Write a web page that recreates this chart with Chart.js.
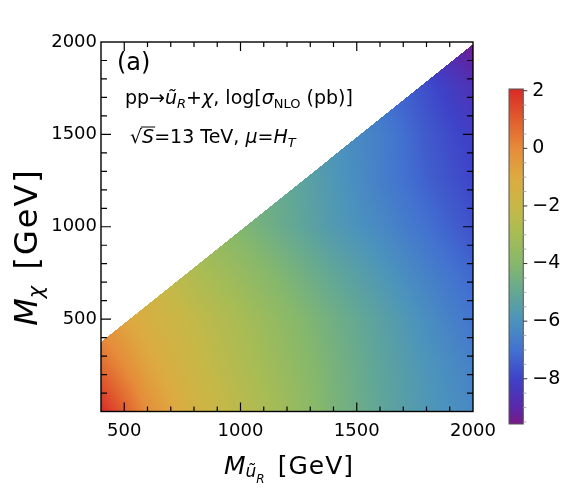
<!DOCTYPE html>
<html><head><meta charset="utf-8">
<script src="https://cdn.jsdelivr.net/npm/chart.js@4/dist/chart.umd.min.js"></script>
<style>
html,body{margin:0;padding:0;background:#fff;}
#wrap{position:relative;width:565px;height:502px;}
#wrap canvas{position:absolute;left:0;top:0;}
</style></head><body>
<div id="wrap"><canvas id="main" width="565" height="502"></canvas><canvas id="cbar" width="565" height="502"></canvas></div>
<script>
// ---- data ----
const mSquark = [400, 600, 800, 1000, 1200, 1400, 1600, 1800, 2000];      // x grid, GeV
const mChi    = [0, 250, 500, 750, 1000, 1250, 1500, 1750, 2000];          // y grid, GeV
const logSigma_chi0    = [2.06, -0.10, -1.50, -2.40, -3.30, -4.30, -5.10, -5.80, -6.30];
const logSigma_chi250  = [0.70, -0.80, -1.85, -2.70, -3.55, -4.40, -5.20, -5.90, -6.55];
const logSigma_chi500  = [-0.40, -1.35, -2.15, -2.95, -3.80, -4.60, -5.35, -6.15, -6.90];
const logSigma_chi750  = [-1.00, -1.80, -2.75, -3.50, -4.30, -5.10, -5.80, -6.55, -7.25];
const logSigma_chi1000 = [null, -2.40, -3.40, -4.15, -4.90, -5.70, -6.30, -7.00, -7.70];
const logSigma_chi1250 = [null, null, null, -4.50, -5.00, -5.80, -6.60, -7.35, -7.95];
const logSigma_chi1500 = [null, null, null, null, -5.40, -5.95, -6.60, -7.50, -8.15];
const logSigma_chi1750 = [null, null, null, null, null, -6.30, -7.00, -7.75, -8.60];
const logSigma_chi2000 = [null, null, null, null, null, null, -7.50, -8.40, -9.57];
const edgeSquark = [400, 2000];   // kinematic edge of the filled region
const edgeChi    = [376, 1988];
const colorbarRange = [-9.57, 2.06];
const colorbarTicks = [2, 0, -2, -4, -6, -8];
const xTickLabels = [500, 1000, 1500, 2000];
const yTickLabels = [500, 1000, 1500, 2000];

// ---- style ----
const FONT = 'DejaVu Sans';
const palette = [
  [-9.57, [120, 28, 135]],
  [-9.0, [90, 40, 168]],
  [-8.0, [62, 66, 200]],
  [-7.0, [66, 114, 208]],
  [-6.0, [75, 147, 189]],
  [-5.0, [99, 168, 147]],
  [-4.0, [134, 184, 107]],
  [-3.0, [167, 188, 85]],
  [-2.0, [199, 184, 71]],
  [-1.0, [221, 170, 64]],
  [0.0, [230, 139, 58]],
  [1.0, [224, 93, 46]],
  [2.06, [217, 42, 39]]
];
function colorFor(v) {
  if (v <= palette[0][0]) return palette[0][1];
  for (let k = 0; k < palette.length - 1; k++) {
    const [a, ca] = palette[k], [b, cb] = palette[k + 1];
    if (v <= b) {
      const t = (v - a) / (b - a);
      return [0, 1, 2].map(q => Math.round(ca[q] + (cb[q] - ca[q]) * t));
    }
  }
  return palette[palette.length - 1][1];
}

const gridRows = [logSigma_chi0, logSigma_chi250, logSigma_chi500, logSigma_chi750, logSigma_chi1000,
  logSigma_chi1250, logSigma_chi1500, logSigma_chi1750, logSigma_chi2000];
const points = [];
mChi.forEach((yv, j) => mSquark.forEach((xv, i) => {
  const v = gridRows[j][i];
  if (v !== null) points.push({ x: xv, y: yv, v });
}));

function cellIndex(arr, v) { let i = 0; while (i < arr.length - 2 && v > arr[i + 1]) i++; return i; }
function valueAt(xv, yv) {
  const i = cellIndex(mSquark, xv), j = cellIndex(mChi, yv);
  const x0 = mSquark[i], x1 = mSquark[i + 1], y0 = mChi[j], y1 = mChi[j + 1];
  const u = Math.min(1, Math.max(0, (xv - x0) / (x1 - x0)));
  const t = Math.min(1, Math.max(0, (yv - y0) / (y1 - y0)));
  const a = gridRows[j][i], b = gridRows[j][i + 1], c = gridRows[j + 1][i], d = gridRows[j + 1][i + 1];
  if (a === null || b === null || c === null || d === null) return null;
  return (a * (1 - u) + b * u) * (1 - t) + (c * (1 - u) + d * u) * t;
}
function edgeAt(xv) {
  const t = (xv - edgeSquark[0]) / (edgeSquark[1] - edgeSquark[0]);
  return edgeChi[0] + (edgeChi[1] - edgeChi[0]) * t;
}

const heatmap = {
  id: 'heatmap',
  beforeDatasetsDraw(chart) {
    const { ctx, chartArea: a, scales: { x, y } } = chart;
    const L = Math.round(a.left), T = Math.round(a.top);
    const w = Math.round(a.right) - L, h = Math.round(a.bottom) - T;
    const off = document.createElement('canvas'); off.width = w; off.height = h;
    const octx = off.getContext('2d');
    const img = octx.createImageData(w, h);
    for (let j = 0; j < h; j++) {
      const yv = y.getValueForPixel(T + j + 0.5);
      for (let i = 0; i < w; i++) {
        const xv = x.getValueForPixel(L + i + 0.5);
        if (yv > edgeAt(xv)) continue;
        const v = valueAt(xv, yv);
        if (v === null) continue;
        const c = colorFor(v);
        const p = (j * w + i) * 4;
        img.data[p] = c[0]; img.data[p + 1] = c[1]; img.data[p + 2] = c[2]; img.data[p + 3] = 255;
      }
    }
    octx.putImageData(img, 0, 0);
    ctx.drawImage(off, L, T);
  }
};

function drawRich(ctx, x, y, parts, align) {
  let total = 0;
  parts.forEach(p => {
    ctx.font = p.f; ctx.letterSpacing = p.ls || '0px';
    p.w = ctx.measureText(p.t).width; total += p.w + (p.sp || 0);
  });
  let cx = align === 'center' ? x - total / 2 : x;
  ctx.textBaseline = 'alphabetic'; ctx.textAlign = 'left';
  parts.forEach(p => {
    ctx.font = p.f; ctx.letterSpacing = p.ls || '0px';
    ctx.fillText(p.t, cx, y + (p.dy || 0));
    if (p.over) {
      ctx.save(); ctx.lineWidth = 1; ctx.beginPath();
      ctx.moveTo(cx - 1, y - p.over); ctx.lineTo(cx + p.w + 1, y - p.over); ctx.stroke(); ctx.restore();
    }
    cx += p.w + (p.sp || 0);
  });
  ctx.letterSpacing = '0px';
  return total;
}

const frame = {
  id: 'frame',
  afterDraw(chart) {
    const { ctx, chartArea: a, scales: { x, y } } = chart;
    ctx.save();
    ctx.strokeStyle = '#000'; ctx.lineWidth = 1.4;
    ctx.strokeRect(a.left, a.top, a.right - a.left, a.bottom - a.top);
    ctx.lineWidth = 1.2;
    ctx.beginPath();
    for (let v = 500; v < 2000; v += 100) {
      const px = x.getPixelForValue(v), L = (v % 500 === 0) ? 9 : 5;
      ctx.moveTo(px, a.bottom); ctx.lineTo(px, a.bottom - L);
      ctx.moveTo(px, a.top); ctx.lineTo(px, a.top + L);
    }
    for (let v = 100; v < 2000; v += 100) {
      const py = y.getPixelForValue(v), L = (v % 500 === 0) ? 10 : 6;
      ctx.moveTo(a.left, py); ctx.lineTo(a.left + L, py);
      ctx.moveTo(a.right, py); ctx.lineTo(a.right - L, py);
    }
    ctx.stroke();

    // labels inside plot
    ctx.fillStyle = '#000'; ctx.strokeStyle = '#000';
    const R = s => `${s}px "${FONT}"`, I = s => `italic ${s}px "${FONT}"`;
    drawRich(ctx, 117, 70, [{ t: '(a)', f: R(24) }]);
    drawRich(ctx, 125, 104, [
      { t: 'pp\u2192', f: R(19) }, { t: '\u0169', f: I(19) }, { t: 'R', f: I(13), dy: 4 },
      { t: '+', f: R(19) }, { t: '\u03c7', f: I(19) }, { t: ', log[', f: R(19) },
      { t: '\u03c3', f: I(19) }, { t: 'NLO', f: R(13), dy: 4 }, { t: ' (pb)]', f: R(19) }
    ]);
    drawRich(ctx, 130, 143, [
      { t: '\u221a', f: R(19) }, { t: 'S', f: I(19), over: 16 }, { t: '=13 TeV, ', f: R(19) },
      { t: '\u03bc', f: I(19) }, { t: '=', f: R(19) }, { t: 'H', f: I(19) }, { t: 'T', f: I(13), dy: 4 }
    ]);
    // x title
    drawRich(ctx, 289, 474, [
      { t: 'M', f: I(25) }, { t: '\u0169', f: I(17), dy: 3 }, { t: 'R', f: I(12), dy: 9, sp: 4 },
      { t: ' [GeV]', f: R(25), ls: '1px' }
    ], 'center');
    // y title
    ctx.translate(37, 247); ctx.rotate(-Math.PI / 2);
    drawRich(ctx, 0, 0, [
      { t: 'M', f: I(32) }, { t: '\u03c7', f: I(21), dy: 6, sp: 4 }, { t: ' [GeV]', f: R(32), ls: '2px' }
    ], 'center');
    ctx.restore();
  }
};

new Chart(document.getElementById('main'), {
  type: 'scatter',
  data: { datasets: [{ data: points, pointRadius: 0, pointHoverRadius: 0 }] },
  options: {
    responsive: false, animation: false, events: [], devicePixelRatio: 1,
    layout: { padding: { left: 0, right: 92, top: 42, bottom: 0 } },
    plugins: { legend: { display: false }, tooltip: { enabled: false } },
    scales: {
      x: {
        type: 'linear', min: 400, max: 2000,
        afterBuildTicks: s => { s.ticks = xTickLabels.map(v => ({ value: v })); },
        afterFit: s => { s.height = 90.5; },
        grid: { display: false, drawTicks: false }, border: { display: false },
        ticks: { font: { family: FONT, size: 18 }, color: '#000', padding: 9, maxRotation: 0, autoSkip: false,
          callback: v => String(v) }
      },
      y: {
        type: 'linear', min: 0, max: 2000,
        afterBuildTicks: s => { s.ticks = yTickLabels.map(v => ({ value: v })); },
        afterFit: s => { s.width = 101; },
        grid: { display: false, drawTicks: false }, border: { display: false },
        ticks: { font: { family: FONT, size: 18 }, color: '#000', padding: 4, autoSkip: false,
          callback: v => String(v) }
      }
    }
  },
  plugins: [heatmap, frame]
});

const colorbar = {
  id: 'colorbar',
  beforeDatasetsDraw(chart) {
    const { ctx, chartArea: a, scales: { y } } = chart;
    ctx.save();
    for (let j = Math.floor(a.top); j < Math.ceil(a.bottom); j++) {
      const c = colorFor(y.getValueForPixel(j + 0.5));
      ctx.fillStyle = `rgb(${c[0]},${c[1]},${c[2]})`;
      ctx.fillRect(a.left, j, a.right - a.left, 1);
    }
    ctx.strokeStyle = '#555'; ctx.lineWidth = 1;
    ctx.strokeRect(a.left, a.top, a.right - a.left, a.bottom - a.top);
    for (let v = -9.5; v <= 2; v += 0.5) {
      const py = y.getPixelForValue(v);
      const major = colorbarTicks.includes(v);
      ctx.strokeStyle = major ? '#333' : '#aaa';
      ctx.lineWidth = 1;
      ctx.beginPath(); ctx.moveTo(a.right, py); ctx.lineTo(a.right + (major ? 4 : 3), py); ctx.stroke();
    }
    ctx.restore();
  }
};

new Chart(document.getElementById('cbar'), {
  type: 'scatter',
  data: { datasets: [{ data: [], pointRadius: 0 }] },
  options: {
    responsive: false, animation: false, events: [], devicePixelRatio: 1,
    layout: { padding: { left: 509, right: 0, top: 89, bottom: 78 } },
    plugins: { legend: { display: false }, tooltip: { enabled: false } },
    scales: {
      x: { display: false, min: 0, max: 1 },
      y: {
        position: 'right', min: colorbarRange[0], max: colorbarRange[1],
        afterBuildTicks: s => { s.ticks = colorbarTicks.map(v => ({ value: v })); },
        afterFit: s => { s.width = 41.7; },
        grid: { display: false, drawTicks: false }, border: { display: false },
        ticks: {
          font: { family: FONT, size: 19 }, color: '#000', padding: 9, autoSkip: false,
          callback: v => (v < 0 ? '\u2212' + Math.abs(v) : String(v))
        }
      }
    }
  },
  plugins: [colorbar]
});
</script>
</body></html>
